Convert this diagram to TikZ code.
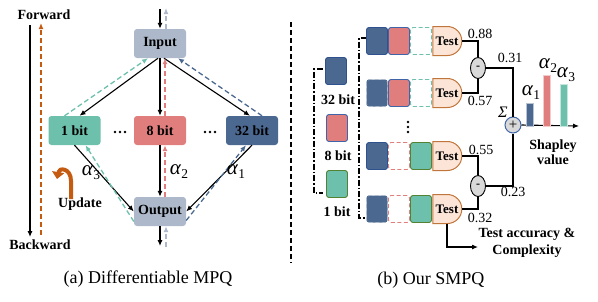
\documentclass[tikz,border=0pt]{standalone}
\usepackage{fontspec}
\setmainfont{Liberation Serif}
\usetikzlibrary{arrows.meta,shapes.misc,shapes.geometric}
\definecolor{ioc}{HTML}{ADB9CA}
\definecolor{tealc}{HTML}{6CC0AC}
\definecolor{salc}{HTML}{E07E7E}
\definecolor{bluc}{HTML}{4B6891}
\definecolor{orc}{HTML}{C55A11}
\definecolor{testfill}{HTML}{FCE4D6}
\definecolor{testdraw}{HTML}{C0753A}
\definecolor{greyc}{HTML}{D9D9D9}
\definecolor{sumdraw}{HTML}{3F65A8}
\definecolor{bludraw}{HTML}{2F528F}
\definecolor{grndraw}{HTML}{548235}
\newcommand{\alp}[1]{{\fontsize{21}{22}\selectfont\itshape α}\kern0.3pt{\fontsize{13.5}{14}\selectfont\raisebox{-4pt}{#1}}}
\begin{document}
\begin{tikzpicture}[x=1pt,y=-1pt,
  tip/.style={-{Latex[length=6pt,width=5pt]}},
  solidc/.style={tip, line width=1.1pt, black},
  dashc/.style={tip, line width=1.3pt, dash pattern=on 5pt off 3pt},
  box/.style={rounded corners=3pt, minimum width=52pt, minimum height=29pt, inner sep=0pt,
    font=\fontsize{14}{16}\selectfont\bfseries},
  bold14/.style={inner sep=0pt, font=\fontsize{14}{16}\selectfont\bfseries},
  lbl/.style={inner sep=0pt, font=\fontsize{14}{16}\selectfont},
  alab/.style={inner sep=0pt},
  captext/.style={inner sep=0pt, font=\fontsize{18}{20}\selectfont},
  blk/.style={rounded corners=2.5pt, minimum width=21pt, minimum height=27pt, inner sep=0pt, line width=0.9pt},
  bfull/.style={blk, fill=bluc, draw=bludraw},
  bdash/.style={blk, fill=bluc, draw=ioc, dash pattern=on 4pt off 2.5pt},
  sfull/.style={blk, fill=salc, draw=sumdraw},
  sdash/.style={blk, draw=salc, fill=white, dash pattern=on 4pt off 2.5pt},
  tfull/.style={blk, fill=tealc, draw=grndraw},
  tdash/.style={blk, draw=tealc, fill=white, dash pattern=on 4pt off 2.5pt},
  testn/.style={rounded rectangle, rounded rectangle left arc=none, draw=testdraw, fill=testfill,
    line width=1pt, minimum width=29pt, minimum height=29pt, inner sep=0pt,
    font=\fontsize{13}{15}\selectfont\bfseries},
  minusn/.style={ellipse, draw=black, fill=greyc, line width=0.9pt, minimum width=15pt, minimum height=21pt,
    inner sep=0pt, font=\fontsize{12}{14}\selectfont\bfseries},
  sumn/.style={circle, draw=sumdraw, fill=greyc, line width=1pt, minimum size=16pt, inner sep=0pt,
    font=\fontsize{15}{16}\selectfont},
  dashdot/.style={line width=1.1pt, dash pattern=on 6pt off 2pt on 1.5pt off 2pt},
  wire/.style={line width=1.1pt, black}
]
\useasboundingbox (0,0) rectangle (598,301);

% ---------------- (a) ----------------
\node[bold14] (fwd) at (44,15) {Forward};
\node[bold14] (bwd) at (40,245) {Backward};
\coordinate (fwdtop) at (30,25);
\coordinate (fwdbot) at (30,237);
\coordinate (bwdbot) at (41,235);
\coordinate (bwdtop) at (41,23);
\draw[solidc] (fwdtop) -- (fwdbot);
\draw[dashc, orc] (bwdbot) -- (bwdtop);

\node[box, fill=ioc] (in) at (160,43.5) {Input};
\node[box, fill=tealc] (b1) at (74.5,130.5) {1 bit};
\node[box, fill=salc] (b8) at (160,130.5) {8 bit};
\node[box, fill=bluc] (b32) at (252,130.5) {32 bit};
\node[box, fill=ioc] (out) at (160,211.5) {Output};

\foreach \x in {115,120,125,205,210,215} \fill (\x,132) circle (1.4pt);

\coordinate (intop) at (160,9);
\coordinate (intop2) at (166,8);
\draw[solidc] (intop) -- (in.north);
\draw[dashc, ioc] ([xshift=6pt]in.north) -- (intop2);

\draw[solidc] ([xshift=-2pt]in.south) -- ([xshift=5pt]b1.north);
\draw[solidc] (in.south) -- (b8.north);
\draw[solidc] ([xshift=4pt]in.south) -- ([xshift=-2pt]b32.north);
\draw[dashc, tealc] ([xshift=-10pt]b1.north) -- ([xshift=-12pt]in.south);
\draw[dashc, salc] ([xshift=5pt]b8.north) -- ([xshift=5pt]in.south);
\draw[dashc, bluc] ([xshift=10pt]b32.north) -- ([xshift=18pt]in.south);

\draw[solidc] (b1.south) -- (out.west);
\draw[solidc] (b8.south) -- (out.north);
\draw[solidc] (b32.south) -- (out.east);
\draw[dashc, tealc] ([yshift=-10pt]out.west) -- ([xshift=11pt]b1.south);
\draw[dashc, salc] ([xshift=5pt]out.north) -- ([xshift=5pt]b8.south);
\draw[dashc, bluc] ([yshift=-9pt]out.east) -- ([xshift=-6pt]b32.south);

\coordinate (outbot) at (160,246);
\coordinate (outbot2) at (166,247);
\draw[solidc] (out.south) -- (outbot);
\draw[dashc, ioc] (outbot2) -- ([xshift=6pt]out.south);

\node[alab] (a3) at (91,173) {\alp{3}};
\node[alab] (a2) at (179,172) {\alp{2}};
\node[alab] (a1) at (236,172) {\alp{1}};

\draw[orc, line width=4pt, -{Triangle[length=7pt,width=12pt]}]
  (71,199) -- (71,181) .. controls (71,168) and (59,167) .. (57,179);
\node[bold14] (upd) at (80,204) {Update};

\draw[line width=1.2pt, dash pattern=on 5pt off 3pt] (291,22) -- (291,263);
\node[captext] (capa) at (148,279) {(a) Differentiable MPQ};

% ---------------- (b) ----------------
\node[bfull] (l1) at (336,71) {};
\node[bold14] at (338,100) {32 bit};
\node[sfull] (l2) at (337,128) {};
\node[bold14] at (338,156) {8 bit};
\node[tfull] (l3) at (337,184) {};
\node[bold14] at (337,212) {1 bit};
\draw[dashdot] (323,69) -- (314,69) -- (314,193) -- (323,193);
\draw[dashdot] (367,38) -- (359,38) -- (359,218) -- (366,218);

% rows
\node[bfull] (r1a) at (377,41) {};
\node[sfull] (r1b) at (399,41) {};
\node[tdash] (r1c) at (421,41) {};
\node[testn] (t1) at (447,41) {Test};

\node[bdash] (r2a) at (377,93) {};
\node[sfull] (r2b) at (399,93) {};
\node[tdash] (r2c) at (421,93) {};
\node[testn] (t2) at (447,93) {Test};

\node[bfull] (r3a) at (377,156) {};
\node[sdash] (r3b) at (399,156) {};
\node[tfull] (r3c) at (421,156) {};
\node[testn] (t3) at (447,156) {Test};

\node[bdash] (r4a) at (377,209) {};
\node[sdash] (r4b) at (399,209) {};
\node[tfull] (r4c) at (421,209) {};
\node[testn] (t4) at (447,209) {Test};

\foreach \y in {122,127,132} \fill (408,\y) circle (1.4pt);

\node[minusn] (m1) at (478,68) {-};
\node[minusn] (m2) at (478,186) {-};
\node[sumn] (sum) at (513,125) {+};

\draw[wire] (t1.east) -| (m1.north);
\draw[wire] (t2.east) -| (m1.south);
\draw[wire] (t3.east) -| (m2.north);
\draw[wire] (t4.east) -| (m2.south);
\draw[wire] (m1.east) -| (sum.north);
\draw[wire] (m2.east) -| (sum.south);

\node[lbl] at (480,34) {0.88};
\node[lbl] at (480,101) {0.57};
\node[lbl] at (481,150) {0.55};
\node[lbl] at (480,218) {0.32};
\node[lbl] at (510,58) {0.31};
\node[lbl] at (513,192) {0.23};
\node[inner sep=0pt, font=\fontsize{16}{17}\selectfont\itshape] at (503,112) {Σ};

\coordinate (axend) at (579,126);
\draw[solidc] (sum.east) -- (axend);
\filldraw[fill=bluc, draw=bluc!40, line width=0.5pt] (526,103) rectangle (533,126);
\filldraw[fill=salc, draw=salc!40, line width=0.5pt] (543,75) rectangle (550,126);
\filldraw[fill=tealc, draw=tealc!40, line width=0.5pt] (560,84) rectangle (567,126);
\node[alab] at (531,93) {\alp{1}};
\node[alab] at (548,66) {\alp{2}};
\node[alab] at (566,75) {\alp{3}};
\node[bold14, align=center, font=\fontsize{14}{15}\selectfont\bfseries] (shap) at (553,152) {Shapley\\value};

\coordinate (taend) at (478,247);
\draw[solidc] (t4.south) |- (taend);
\node[bold14, align=center, font=\fontsize{14}{17}\selectfont\bfseries] (tacc) at (527,243) {Test accuracy \&\\Complexity};

\node[captext] (capb) at (431,280) {(b) Our SMPQ};
\end{tikzpicture}
\end{document}
